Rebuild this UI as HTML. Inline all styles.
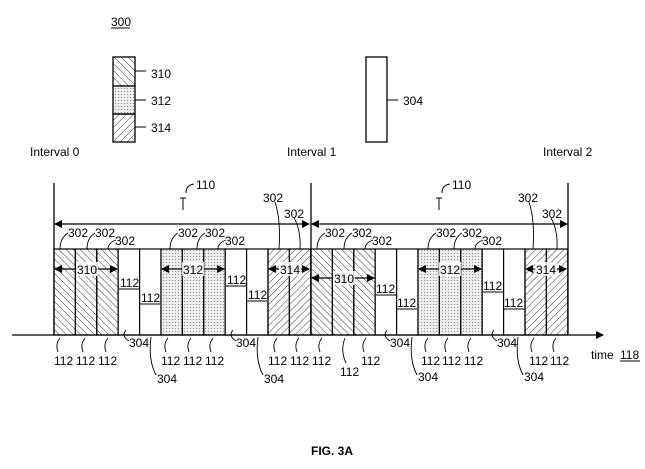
<!DOCTYPE html>
<html><head><meta charset="utf-8"><style>
html,body{margin:0;padding:0;background:#fff;}
svg{display:block;}
text{font-family:"Liberation Sans",Arial,sans-serif;font-size:12px;fill:#000;}
</style></head><body>
<svg width="645" height="469" viewBox="0 0 645 469" xmlns="http://www.w3.org/2000/svg">
<defs>
<pattern id="hb" width="5" height="5" patternUnits="userSpaceOnUse" patternTransform="rotate(-45)"><line x1="0" y1="0" x2="0" y2="5" stroke="#333" stroke-width="1"/></pattern>
<pattern id="hf" width="5" height="5" patternUnits="userSpaceOnUse" patternTransform="rotate(45)"><line x1="0" y1="0" x2="0" y2="5" stroke="#333" stroke-width="1"/></pattern>
<pattern id="dt" width="3" height="3" patternUnits="userSpaceOnUse"><rect width="3" height="3" fill="#eee"/><rect x="1" y="1" width="1" height="1" fill="#888"/></pattern>
<marker id="ar" markerWidth="8" markerHeight="8" refX="7" refY="4" orient="auto-start-reverse" markerUnits="userSpaceOnUse"><path d="M0,0 L8,4 L0,8 z" fill="#000"/></marker>
</defs>

<!-- legend -->
<text x="111" y="26">300</text><line x1="111" y1="28" x2="130" y2="28" stroke="#000"/>
<rect x="113" y="57" width="22" height="29" fill="url(#hb)" stroke="#000" stroke-width="1.3"/>
<rect x="113" y="86" width="22" height="28" fill="url(#dt)" stroke="#000" stroke-width="1.3"/>
<rect x="113" y="114" width="22" height="28" fill="url(#hf)" stroke="#000" stroke-width="1.3"/>
<g stroke="#000"><line x1="135" y1="71" x2="146" y2="71"/><line x1="135" y1="100" x2="146" y2="100"/><line x1="135" y1="127" x2="146" y2="127"/><line x1="387" y1="100" x2="398" y2="100"/></g>
<text x="151" y="78">310</text><text x="151" y="105">312</text><text x="151" y="132">314</text>
<rect x="366" y="57" width="21" height="85" fill="#fff" stroke="#000" stroke-width="1.3"/>
<text x="403" y="105">304</text>
<text x="30" y="156">Interval 0</text><text x="287" y="156">Interval 1</text><text x="543" y="156">Interval 2</text>

<!-- interval lines -->
<g stroke="#000" stroke-width="1.3"><line x1="54" y1="183" x2="54" y2="335"/><line x1="311" y1="183" x2="311" y2="335"/><line x1="568" y1="183" x2="568" y2="335"/></g>
<g stroke="#000" stroke-width="1.2"><line x1="55" y1="224" x2="309" y2="224" marker-start="url(#ar)" marker-end="url(#ar)"/><line x1="312" y1="224" x2="567" y2="224" marker-start="url(#ar)" marker-end="url(#ar)"/></g>

<!-- interval 0 columns -->
<g stroke="#000" stroke-width="1.2">
<rect x="54" y="249" width="21.4" height="86" fill="url(#hb)"/><rect x="75.4" y="249" width="21.4" height="86" fill="url(#hb)"/><rect x="96.8" y="249" width="21.4" height="86" fill="url(#hb)"/>
<rect x="118.2" y="249" width="21.4" height="86" fill="#fff"/><rect x="139.6" y="249" width="21.4" height="86" fill="#fff"/>
<rect x="161" y="249" width="21.4" height="86" fill="url(#dt)"/><rect x="182.4" y="249" width="21.4" height="86" fill="url(#dt)"/><rect x="203.8" y="249" width="21.4" height="86" fill="url(#dt)"/>
<rect x="225.2" y="249" width="21.4" height="86" fill="#fff"/><rect x="246.6" y="249" width="21.4" height="86" fill="#fff"/>
<rect x="268" y="249" width="21.4" height="86" fill="url(#hf)"/><rect x="289.4" y="249" width="21.4" height="86" fill="url(#hf)"/>
<!-- interval 1 -->
<rect x="311" y="249" width="21.4" height="86" fill="url(#hb)"/><rect x="332.4" y="249" width="21.4" height="86" fill="url(#hb)"/><rect x="353.8" y="249" width="21.4" height="86" fill="url(#hb)"/>
<rect x="375.2" y="249" width="21.4" height="86" fill="#fff"/><rect x="396.6" y="249" width="21.4" height="86" fill="#fff"/>
<rect x="418" y="249" width="21.4" height="86" fill="url(#dt)"/><rect x="439.4" y="249" width="21.4" height="86" fill="url(#dt)"/><rect x="460.8" y="249" width="21.4" height="86" fill="url(#dt)"/>
<rect x="482.2" y="249" width="21.4" height="86" fill="#fff"/><rect x="503.6" y="249" width="21.4" height="86" fill="#fff"/>
<rect x="525" y="249" width="21.4" height="86" fill="url(#hf)"/><rect x="546.4" y="249" width="21.4" height="86" fill="url(#hf)"/>
</g>

<!-- axis -->
<line x1="12" y1="335" x2="603" y2="335" stroke="#000" stroke-width="1.3" marker-end="url(#ar)"/>
<text x="591" y="359">time</text><text x="620" y="359">118</text><line x1="620" y1="361" x2="640" y2="361" stroke="#000"/>

<!-- group arrows -->
<g stroke="#000" stroke-width="1.2">
<line x1="55" y1="269" x2="117" y2="269" marker-start="url(#ar)" marker-end="url(#ar)"/>
<line x1="162" y1="269" x2="224" y2="269" marker-start="url(#ar)" marker-end="url(#ar)"/>
<line x1="269" y1="269" x2="309" y2="269" marker-start="url(#ar)" marker-end="url(#ar)"/>
<line x1="312" y1="278" x2="374" y2="278" marker-start="url(#ar)" marker-end="url(#ar)"/>
<line x1="419" y1="269" x2="481" y2="269" marker-start="url(#ar)" marker-end="url(#ar)"/>
<line x1="526" y1="269" x2="566" y2="269" marker-start="url(#ar)" marker-end="url(#ar)"/>
</g>
<g>
<rect x="76" y="262" width="22" height="14" fill="#fff" opacity="0.85"/><text x="77" y="274">310</text>
<rect x="182" y="262" width="22" height="14" fill="#fff" opacity="0.85"/><text x="183" y="274">312</text>
<rect x="279" y="262" width="22" height="14" fill="#fff" opacity="0.85"/><text x="280" y="274">314</text>
<rect x="333" y="271" width="22" height="14" fill="#fff" opacity="0.85"/><text x="334" y="283">310</text>
<rect x="439" y="262" width="22" height="14" fill="#fff" opacity="0.85"/><text x="440" y="274">312</text>
<rect x="535" y="262" width="22" height="14" fill="#fff" opacity="0.85"/><text x="536" y="274">314</text>
</g>

<!-- 110 labels -->
<g stroke="#000" fill="none">
<line x1="183" y1="198" x2="183" y2="210"/><line x1="180" y1="198" x2="186" y2="198"/><path d="M186,193 Q186,185 194,184"/>
<line x1="439" y1="198" x2="439" y2="210"/><line x1="436" y1="198" x2="442" y2="198"/><path d="M442,193 Q442,185 450,184"/>
</g>
<text x="196" y="189">110</text><text x="452" y="189">110</text>

<!-- 302 labels -->
<g stroke="#000" fill="none" stroke-width="0.9">
<path d="M60,249 Q60,238 68,233"/><path d="M87,249 Q87,238 95,233"/><path d="M108,249 Q108,243 116,240"/>
<path d="M170,249 Q170,238 178,233"/><path d="M197,249 Q197,238 205,233"/><path d="M218,249 Q218,243 226,240"/>
<path d="M279,249 Q281,220 275,202"/><path d="M300,249 Q301,230 294,218"/>
<path d="M317,249 Q317,238 325,233"/><path d="M344,249 Q344,238 352,233"/><path d="M365,249 Q365,243 373,240"/>
<path d="M428,249 Q428,238 436,233"/><path d="M454,249 Q454,238 462,233"/><path d="M475,249 Q475,243 483,240"/>
<path d="M533,249 Q535,220 529,202"/><path d="M557,249 Q558,230 551,218"/>
</g>
<text x="68" y="237">302</text><text x="95" y="237">302</text><text x="115" y="245">302</text>
<text x="178" y="237">302</text><text x="205" y="237">302</text><text x="225" y="245">302</text>
<text x="263" y="202">302</text><text x="284" y="218">302</text>
<text x="325" y="237">302</text><text x="352" y="237">302</text><text x="372" y="245">302</text>
<text x="436" y="237">302</text><text x="462" y="237">302</text><text x="482" y="245">302</text>
<text x="518" y="202">302</text><text x="542" y="218">302</text>

<!-- 112 in white columns -->
<g>
<text x="120" y="287">112</text><text x="141" y="302">112</text>
<text x="227" y="284">112</text><text x="248" y="299">112</text>
<text x="376" y="293">112</text><text x="397" y="307">112</text>
<text x="483" y="290">112</text><text x="504" y="307">112</text>
</g>
<g stroke="#000" stroke-width="0.9">
<line x1="119" y1="289" x2="139" y2="289"/><line x1="140" y1="304" x2="160" y2="304"/>
<line x1="226" y1="286" x2="246" y2="286"/><line x1="247" y1="301" x2="267" y2="301"/>
<line x1="376" y1="295" x2="396" y2="295"/><line x1="397" y1="309" x2="417" y2="309"/>
<line x1="483" y1="292" x2="503" y2="292"/><line x1="504" y1="309" x2="524" y2="309"/>
</g>

<!-- bottom 112 leaders & labels -->
<g stroke="#000" fill="none" stroke-width="0.9">
<path d="M60,338 Q55,344 58,352"/><path d="M85,338 Q80,344 83,352"/><path d="M108,338 Q103,344 106,352"/>
<path d="M168,338 Q163,344 166,352"/><path d="M191,338 Q186,344 189,352"/><path d="M213,338 Q208,344 211,352"/>
<path d="M277,338 Q272,344 275,352"/><path d="M299,338 Q294,344 297,352"/>
<path d="M322,338 Q317,344 320,352"/><path d="M345,338 Q340,350 346,363"/><path d="M366,338 Q361,344 364,352"/>
<path d="M428,338 Q423,344 426,352"/><path d="M448,338 Q443,344 446,352"/><path d="M471,338 Q466,344 469,352"/>
<path d="M534,338 Q529,344 532,352"/><path d="M556,338 Q551,344 554,352"/>
<!-- 304 leaders -->
<path d="M126,330 Q121,336 129,341"/><path d="M151,337 Q148,360 156,375"/>
<path d="M233,330 Q228,336 236,341"/><path d="M258,337 Q255,360 263,375"/>
<path d="M387,330 Q382,336 390,341"/><path d="M412,337 Q409,360 417,375"/>
<path d="M494,330 Q489,336 497,341"/><path d="M518,337 Q515,360 523,375"/>
</g>
<g>
<text x="54" y="365">112</text><text x="76" y="365">112</text><text x="98" y="365">112</text>
<text x="161" y="365">112</text><text x="183" y="365">112</text><text x="205" y="365">112</text>
<text x="268" y="365">112</text><text x="290" y="365">112</text>
<text x="312" y="365">112</text><text x="340" y="376">112</text><text x="361" y="365">112</text>
<text x="421" y="365">112</text><text x="442" y="365">112</text><text x="464" y="365">112</text>
<text x="529" y="365">112</text><text x="550" y="365">112</text>
<text x="129" y="347">304</text><text x="157" y="383">304</text>
<text x="236" y="347">304</text><text x="264" y="383">304</text>
<text x="390" y="347">304</text><text x="418" y="381">304</text>
<text x="497" y="347">304</text><text x="524" y="381">304</text>
</g>

<text x="311" y="455" style="font-weight:bold;font-size:12px">FIG. 3A</text>
</svg>
</body></html>
